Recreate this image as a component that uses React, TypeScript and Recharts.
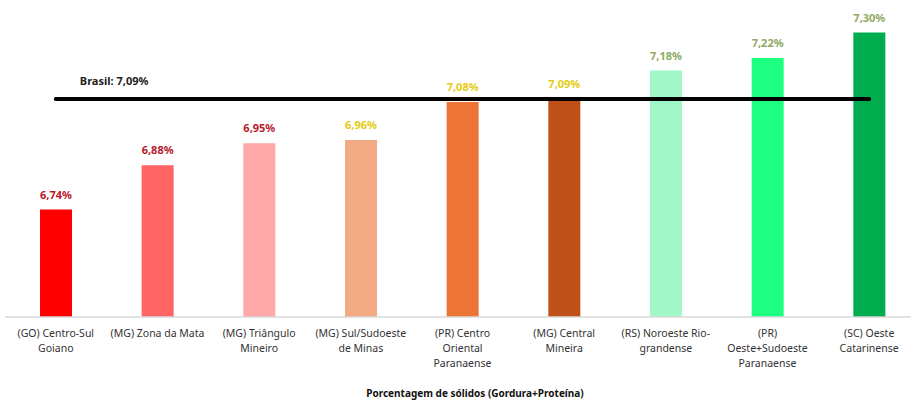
import React from 'react';
import { BarChart, Bar, XAxis, YAxis, Cell, LabelList, ReferenceLine, Label } from 'recharts';

const regions = [
  '(GO) Centro-Sul Goiano',
  '(MG) Zona da Mata',
  '(MG) Triângulo Mineiro',
  '(MG) Sul/Sudoeste de Minas',
  '(PR) Centro Oriental Paranaense',
  '(MG) Central Mineira',
  '(RS) Noroeste Rio-grandense',
  '(PR) Oeste+Sudoeste Paranaense',
  '(SC) Oeste Catarinense',
];
const tickLines = [
  ['(GO) Centro-Sul', 'Goiano'],
  ['(MG) Zona da Mata'],
  ['(MG) Triângulo', 'Mineiro'],
  ['(MG) Sul/Sudoeste', 'de Minas'],
  ['(PR) Centro', 'Oriental', 'Paranaense'],
  ['(MG) Central', 'Mineira'],
  ['(RS) Noroeste Rio-', 'grandense'],
  ['(PR)', 'Oeste+Sudoeste', 'Paranaense'],
  ['(SC) Oeste', 'Catarinense'],
];
const values = [6.74, 6.88, 6.95, 6.96, 7.08, 7.09, 7.18, 7.22, 7.3];
const valueLabels = ['6,74%', '6,88%', '6,95%', '6,96%', '7,08%', '7,09%', '7,18%', '7,22%', '7,30%'];
const barColors = ['#FF0000', '#FF6565', '#FFA8A8', '#F2AA84', '#EC7434', '#C0501A', '#A0F8C8', '#1CFF80', '#00AD4E'];
const labelColors = ['#B8192A', '#B8192A', '#B8192A', '#E5CB10', '#E5CB10', '#E5CB10', '#8FAA62', '#8FAA62', '#8FAA62'];
const brasilValue = 7.09;
const brasilLabel = 'Brasil: 7,09%';
const axisTitle = 'Porcentagem de sólidos (Gordura+Proteína)';

const data = regions.map((r, i) => ({ region: r, value: values[i] }));

const FONT = '"Noto Sans", "DejaVu Sans", sans-serif';

const CustomTick = (props: any) => {
  const { x, y, payload } = props;
  const idx = regions.indexOf(payload.value);
  const lines = tickLines[idx] || [payload.value];
  return (
    <text x={x} y={y} textAnchor="middle" fill="#333333" fontSize={10.5} fontFamily={FONT}>
      {lines.map((l, i) => (
        <tspan key={i} x={x} dy={i === 0 ? 12 : 15}>{l}</tspan>
      ))}
    </text>
  );
};

const ValueLabel = (props: any) => {
  const { x, y, width, index } = props;
  return (
    <text
      x={x + width / 2}
      y={y - 11}
      textAnchor="middle"
      fill={labelColors[index]}
      fontSize={11}
      fontWeight="bold"
      fontFamily={FONT}
    >
      {valueLabels[index]}
    </text>
  );
};

export default function App() {
  return (
    <div style={{ position: 'absolute', left: 0, top: 0, width: 911, height: 401, overflow: 'hidden', background: '#fff' }}>
      <BarChart width={925} height={401} data={data} margin={{ top: 1, right: 5, bottom: 0, left: 5 }}>
        <YAxis hide domain={[6.4, 7.4]} allowDataOverflow />
        <XAxis
          dataKey="region"
          height={84}
          interval={0}
          tickLine={false}
          axisLine={{ stroke: '#d9d9d9', strokeWidth: 1.5 }}
          tick={<CustomTick />}
        >
          <Label
            content={() => (
              <text x={475} y={397} textAnchor="middle" fill="#111" fontSize={10} fontWeight="bold" fontFamily={FONT}>
                {axisTitle}
              </text>
            )}
          />
        </XAxis>
        <Bar dataKey="value" barSize={32} isAnimationActive={false}>
          {data.map((d, i) => (
            <Cell key={i} fill={barColors[i]} />
          ))}
          <LabelList dataKey="value" content={<ValueLabel />} />
        </Bar>
        <ReferenceLine
          segment={[{ x: regions[0], y: brasilValue }, { x: regions[regions.length - 1], y: brasilValue }]}
          stroke="#000"
          strokeWidth={4}
          strokeLinecap="round"
          label={(p: any) => {
            const vb = p.viewBox || {};
            return (
              <text x={(vb.x || 0) + 24} y={(vb.y || 0) - 14} fill="#222" fontSize={11} fontWeight="bold" fontFamily={FONT}>
                {brasilLabel}
              </text>
            );
          }}
        />
      </BarChart>
    </div>
  );
}
